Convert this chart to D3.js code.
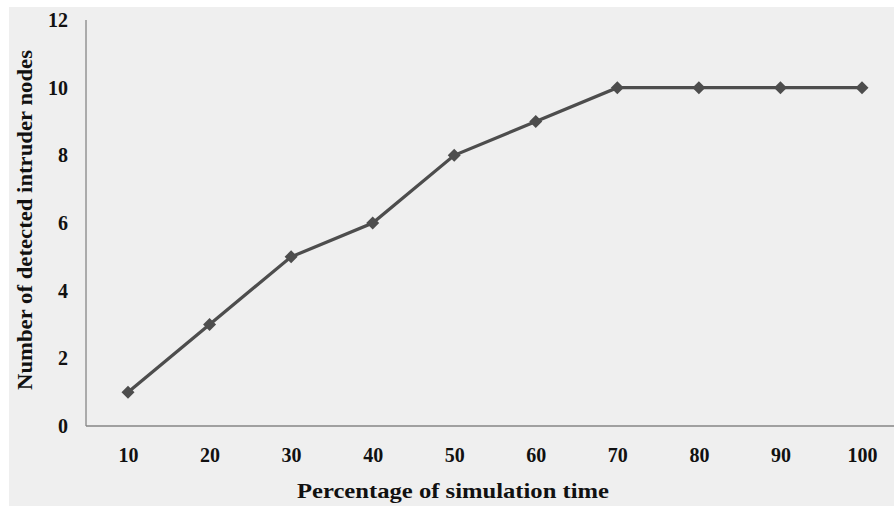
<!DOCTYPE html>
<html><head><meta charset="utf-8">
<script src="https://cdn.jsdelivr.net/npm/d3@7"></script>
<style>body{margin:0;background:#fff}svg{display:block}</style>
</head><body>
<script>
const categories = ["10","20","30","40","50","60","70","80","90","100"];
const values = [1,3,5,6,8,9,10,10,10,10];
const yTicks = [0,2,4,6,8,10,12];
const xTitle = "Percentage of simulation time";
const yTitle = "Number of detected intruder nodes";

const W = 894, H = 506;
const svg = d3.select("body").append("svg").attr("width", W).attr("height", H);
svg.append("rect").attr("x", 9).attr("y", 7).attr("width", W - 9).attr("height", H - 7).attr("fill", "#efefef");

const mLeft = 86, mBottom = 426, mTop = 20;
const x = d3.scalePoint().domain(categories).range([128, 862]);
const y = d3.scaleLinear().domain([0, 12]).range([mBottom, mTop]);
const font = "Liberation Serif";

// axes lines
svg.append("line").attr("x1", mLeft).attr("x2", W).attr("y1", mBottom).attr("y2", mBottom)
  .attr("stroke", "#868686").attr("stroke-width", 1.3);
svg.append("line").attr("x1", mLeft).attr("x2", mLeft).attr("y1", y(12)).attr("y2", mBottom)
  .attr("stroke", "#868686").attr("stroke-width", 1.3);

// y tick labels
const gy = svg.append("g").attr("transform", `translate(${mLeft},0)`)
  .call(d3.axisLeft(y).tickValues(yTicks).tickSize(0).tickPadding(18));
gy.select(".domain").remove();
gy.attr("font-family", null).attr("font-size", null);
gy.selectAll("text").style("font-family", font).style("font-weight", "bold").style("font-size", "20px").attr("fill", "#111");

// x tick labels
const gx = svg.append("g").attr("transform", `translate(0,${mBottom})`)
  .call(d3.axisBottom(x).tickSize(0).tickPadding(22));
gx.select(".domain").remove();
gx.attr("font-family", null).attr("font-size", null);
gx.selectAll("text").style("font-family", font).style("font-weight", "bold").style("font-size", "20px").attr("fill", "#111");

// titles
svg.append("text").attr("x", 297).attr("y", 498)
  .attr("textLength", 312).attr("lengthAdjust", "spacingAndGlyphs")
  .style("font-family", font).style("font-weight", "bold").style("font-size", "22px").attr("fill", "#111")
  .text(xTitle);
svg.append("text").attr("transform", `translate(32,390) rotate(-90)`)
  .attr("textLength", 340).attr("lengthAdjust", "spacingAndGlyphs")
  .style("font-family", font).style("font-weight", "bold").style("font-size", "22px").attr("fill", "#111")
  .text(yTitle);

// line
const data = categories.map((c, i) => ({c, v: values[i]}));
svg.append("path").datum(data)
  .attr("d", d3.line().x(d => x(d.c)).y(d => y(d.v)))
  .attr("fill", "none").attr("stroke", "#4d4d4d").attr("stroke-width", 3.3);

svg.append("g").selectAll("path").data(data).join("path")
  .attr("transform", d => `translate(${x(d.c)},${y(d.v)})`)
  .attr("d", "M0,-6.5L6.5,0L0,6.5L-6.5,0Z").attr("fill", "#4d4d4d");
</script>
</body></html>
